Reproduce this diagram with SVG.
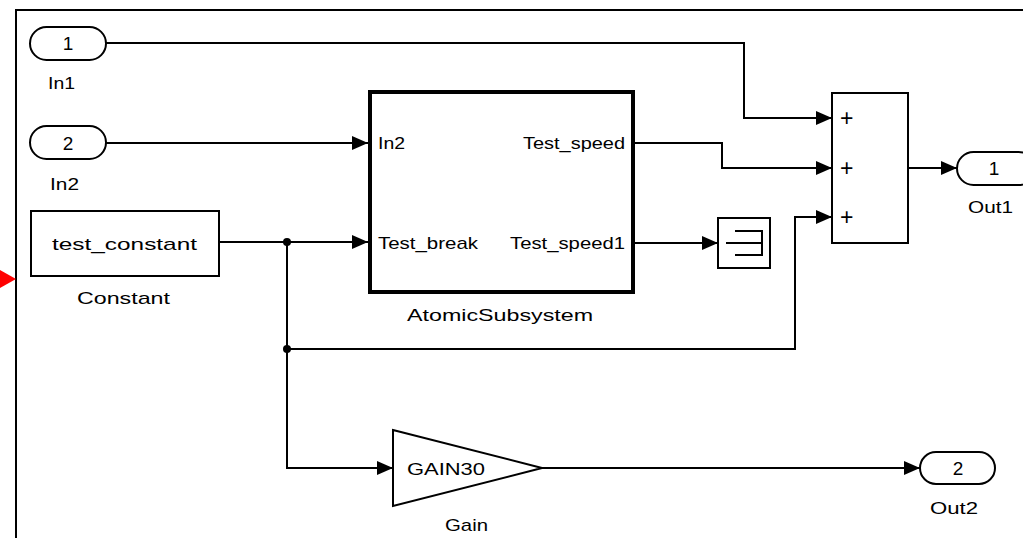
<svg xmlns="http://www.w3.org/2000/svg" width="1023" height="538" viewBox="0 0 1023 538">
<style>
.blk{fill:#fff;stroke:#000;stroke-width:2}
.thick{fill:#fff;stroke:#000;stroke-width:4}
.port{fill:#fff;stroke:#000;stroke-width:2}
.wire{fill:none;stroke:#000;stroke-width:2}
.wa{fill:none;stroke:#000;stroke-width:2;marker-end:url(#ah)}
text{font-family:"Liberation Sans",Arial,sans-serif;font-size:17px;fill:#000}
.c{text-anchor:middle}
.big{font-size:19px}
.plus{font-size:23px}
</style>
<defs>
<marker id="ah" markerUnits="userSpaceOnUse" markerWidth="16" markerHeight="14" refX="16" refY="7" orient="auto">
<path d="M0,0 L16,7 L0,14 z" fill="#000"/>
</marker>
</defs>
<rect x="0" y="0" width="1023" height="538" fill="#fff"/>
<rect x="16" y="10" width="1030" height="560" fill="none" stroke="#000" stroke-width="2"/>
<polygon points="0,270 16,279 0,288" fill="#f00"/>

<g id="connectors">
<path class="wa" d="M106,43 H744 V118 H832"/>
<path class="wa" d="M106,143 H368"/>
<path class="wa" d="M219,242 H368"/>
<path class="wa" d="M635,143 H722 V168 H832"/>
<path class="wa" d="M635,243 H718"/>
<path class="wa" d="M287,349 H795 V217 H832"/>
<path class="wa" d="M287,242 V468 H393"/>
<path class="wa" d="M908,168 H957"/>
<path class="wa" d="M542,468 H920"/>
<circle cx="287" cy="242" r="4" fill="#000"/>
<circle cx="287" cy="349" r="4" fill="#000"/>
</g>

<g id="In1">
<rect class="port" x="30" y="27" width="76" height="33" rx="16.5"/>
<text class="c big" x="68" y="50">1</text>
<text x="48" y="89" textLength="27" lengthAdjust="spacingAndGlyphs">In1</text>
</g>

<g id="In2">
<rect class="port" x="30" y="126" width="76" height="33" rx="16.5"/>
<text class="c big" x="68" y="150">2</text>
<text x="50" y="190" textLength="29" lengthAdjust="spacingAndGlyphs">In2</text>
</g>

<g id="Constant">
<rect class="blk" x="31" y="211" width="188" height="65"/>
<text x="52" y="250" textLength="145" lengthAdjust="spacingAndGlyphs">test_constant</text>
<text x="77" y="304" textLength="93" lengthAdjust="spacingAndGlyphs">Constant</text>
</g>

<g id="AtomicSubsystem">
<rect class="thick" x="370" y="92" width="263" height="200"/>
<text x="378" y="149" textLength="27" lengthAdjust="spacingAndGlyphs">In2</text>
<text x="378" y="249" textLength="100" lengthAdjust="spacingAndGlyphs">Test_break</text>
<text x="523" y="149" textLength="102" lengthAdjust="spacingAndGlyphs">Test_speed</text>
<text x="510" y="249" textLength="115" lengthAdjust="spacingAndGlyphs">Test_speed1</text>
<text x="407" y="321" textLength="186" lengthAdjust="spacingAndGlyphs">AtomicSubsystem</text>
</g>

<g id="Scope">
<rect class="blk" x="718" y="218" width="52" height="50"/>
<path d="M735,231 H762 V255 H735 M726,243 H762" fill="none" stroke="#000" stroke-width="2"/>
</g>

<g id="Sum">
<rect class="blk" x="832" y="93" width="76" height="150"/>
<text class="plus" x="840" y="126">+</text>
<text class="plus" x="840" y="176">+</text>
<text class="plus" x="840" y="225">+</text>
</g>

<g id="Out1">
<rect class="port" x="957" y="152" width="78" height="33" rx="16.5"/>
<text class="c big" x="994" y="175">1</text>
<text x="968" y="213" textLength="45" lengthAdjust="spacingAndGlyphs">Out1</text>
</g>

<g id="Gain">
<polygon points="393,430 542,468 393,506" class="blk"/>
<text x="407" y="475" textLength="78" lengthAdjust="spacingAndGlyphs">GAIN30</text>
<text x="445" y="531" textLength="43" lengthAdjust="spacingAndGlyphs">Gain</text>
</g>

<g id="Out2">
<rect class="port" x="920" y="452" width="75" height="32" rx="16"/>
<text class="c big" x="958" y="475">2</text>
<text x="930" y="514" textLength="48" lengthAdjust="spacingAndGlyphs">Out2</text>
</g>
</svg>
